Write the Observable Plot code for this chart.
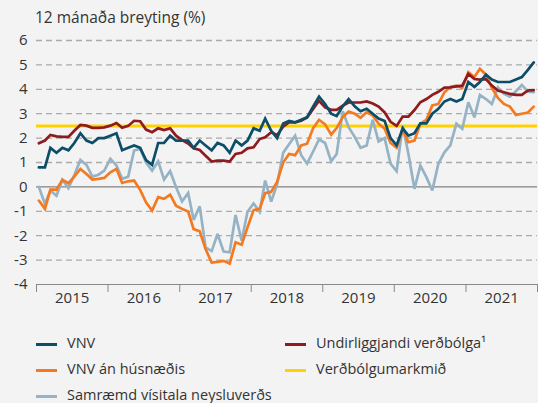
<!DOCTYPE html>
<html>
<head>
<meta charset="utf-8">
<script src="https://cdn.jsdelivr.net/npm/d3@7"></script>
<script src="https://cdn.jsdelivr.net/npm/@observablehq/plot@0.6"></script>
<style>
  html, body { margin: 0; padding: 0; background: #f3f3f3; }
  body { width: 538px; height: 403px; position: relative; overflow: hidden; font-family: "Open Sans", sans-serif; color: #333; }
  #title { position: absolute; left: 35px; top: 6px; font-size: 15.5px; color: #333; }
  #chart { position: absolute; left: 0; top: 0; }
  .lg { position: absolute; font-size: 14.5px; color: #333; white-space: nowrap; }
  .sw { position: absolute; width: 21px; height: 3px; }
</style>
</head>
<body>
<div id="chart"></div>
<div id="title">12 mánaða breyting (%)</div>
<div id="legend"></div>
<script>
// Monthly 12-month change, Jan 2015 – Dec 2021
const vnv = [
  0.8,0.8,1.6,1.4,1.6,1.5,1.8,2.2,1.9,1.8,2.0,2.0,
  2.1,2.2,1.5,1.6,1.7,1.6,1.1,0.9,1.8,1.8,2.1,1.9,
  1.9,1.9,1.6,1.9,1.7,1.5,1.8,1.7,1.4,1.9,1.7,1.9,
  2.4,2.3,2.8,2.3,2.0,2.6,2.7,2.65,2.75,2.85,3.3,3.7,
  3.4,3.0,2.9,3.3,3.6,3.3,3.1,3.2,3.0,2.8,2.7,2.0,
  1.7,2.4,2.1,2.2,2.6,2.6,3.0,3.2,3.5,3.6,3.5,3.6,
  4.3,4.1,4.3,4.6,4.4,4.3,4.3,4.3,4.4,4.5,4.8,5.1
];
const vnvAnHusnaedis = [
  -0.56,-0.9,-0.11,-0.11,0.29,0.15,0.42,0.74,0.53,0.3,0.33,0.37,
  0.6,0.74,0.16,0.23,0.26,-0.12,-0.63,-0.97,-0.42,-0.49,-0.32,-0.77,
  -0.9,-1.01,-1.73,-1.82,-2.55,-3.1,-3.07,-3.03,-3.14,-2.27,-2.37,-1.66,
  -0.95,-0.9,-0.26,-0.2,0.2,1.0,1.35,1.3,1.7,1.77,2.41,2.75,
  2.56,2.14,2.41,2.86,3.09,3.0,2.83,3.06,2.93,2.59,2.38,1.8,
  1.6,2.34,1.83,1.9,2.59,2.75,3.34,3.4,3.88,4.09,4.15,4.06,
  4.7,4.5,4.84,4.6,4.06,3.65,3.4,3.29,2.95,3.0,3.05,3.29
];
const samraemd = [
  0.0,-0.7,-0.15,-0.36,0.29,-0.05,0.49,1.1,0.9,0.42,0.5,0.67,
  1.15,0.88,0.33,0.42,1.49,1.56,1.0,0.67,1.05,0.3,0.65,0.0,
  -0.6,-0.25,-1.35,-0.8,-2.48,-2.63,-1.93,-2.65,-2.68,-1.15,-2.2,-1.02,
  -0.68,-1.02,0.26,-0.6,0.1,1.4,1.75,2.1,1.3,0.95,1.45,1.95,
  1.8,1.05,1.35,3.1,2.45,2.05,1.6,1.7,2.75,1.86,2.0,0.95,
  0.64,2.52,1.36,-0.08,0.88,0.4,-0.15,0.95,1.42,1.7,2.59,2.38,
  3.47,2.85,3.77,3.6,3.4,4.07,3.82,3.7,3.92,4.18,3.9,3.88
];
const undirliggjandi = [
  1.79,1.9,2.13,2.07,2.05,2.05,2.3,2.54,2.51,2.42,2.42,2.44,
  2.51,2.62,2.42,2.5,2.71,2.69,2.35,2.24,2.4,2.33,2.4,2.1,
  1.92,1.78,1.58,1.51,1.28,1.04,1.08,1.08,1.04,1.35,1.4,1.58,
  1.62,1.96,2.03,2.24,2.13,2.47,2.64,2.64,2.71,2.85,3.19,3.53,
  3.26,3.16,3.16,3.33,3.46,3.46,3.46,3.5,3.42,3.29,3.05,2.67,
  2.5,2.88,2.88,3.15,3.47,3.6,3.77,3.9,4.07,4.08,4.12,4.15,
  4.63,4.42,4.4,4.42,4.15,3.95,3.88,3.81,3.77,3.77,3.95,3.97
];
const verdbolgumarkmid = 2.5;
const yTicks = [-4,-3,-2,-1,0,1,2,3,4,5,6];
const years = [2015,2016,2017,2018,2019,2020,2021];
const seriesNames = ["VNV","VNV án húsnæðis","Samræmd vísitala neysluverðs","Undirliggjandi verðbólga¹","Verðbólgumarkmið"];
const seriesColors = ["#0c4e68","#f47a22","#95b3c4","#8e1c1f","#fed100"];

const months = d3.utcMonths(new Date(Date.UTC(2015,0,1)), new Date(Date.UTC(2022,0,1)))
  .map(d => d3.utcDay.offset(d, 12));
const toRows = (arr) => arr.map((v, i) => ({date: months[i], value: v}));

const yearStarts = years.concat([2022]).map(y => new Date(Date.UTC(y,0,1)));
const yearMids = years.map(y => new Date(Date.UTC(y,6,2)));

const lineOpts = (c) => ({x: "date", y: "value", stroke: c, strokeWidth: 2.7, strokeLinejoin: "miter", strokeMiterlimit: 3});

const chart = Plot.plot({
  width: 538, height: 310,
  marginLeft: 36, marginRight: 1, marginTop: 40, marginBottom: 26,
  style: {background: "transparent", fontFamily: "Open Sans, sans-serif", fontSize: "15px", color: "#333"},
  x: {type: "utc", domain: [new Date(Date.UTC(2015,0,1)), new Date(Date.UTC(2022,0,1))]},
  y: {domain: [-4, 6]},
  marks: [
    Plot.ruleY(yTicks.filter(d => d !== 0 && d !== -4), {stroke: "#aaa", strokeWidth: 1.3, strokeDasharray: "6,4"}),
    Plot.ruleY([0], {stroke: "#666", strokeWidth: 1}),
    Plot.ruleY([-4], {stroke: "#888", strokeWidth: 1}),
    Plot.axisY({ticks: yTicks, tickSize: 0, tickPadding: 9, tickFormat: d => String(d), label: null, fontSize: 15}),
    Plot.axisX({ticks: yearStarts, tickSize: 8, tickFormat: () => "", label: null, stroke: "#888"}),
    Plot.axisX({ticks: yearMids, tickSize: 0, tickPadding: 8, tickFormat: d => String(d.getUTCFullYear()), label: null, fontSize: 15}),
    Plot.ruleY([verdbolgumarkmid], {stroke: seriesColors[4], strokeWidth: 3}),
    Plot.line(toRows(samraemd), lineOpts(seriesColors[2])),
    Plot.line(toRows(vnvAnHusnaedis), lineOpts(seriesColors[1])),
    Plot.line(toRows(undirliggjandi), lineOpts(seriesColors[3])),
    Plot.line(toRows(vnv), lineOpts(seriesColors[0]))
  ]
});
document.getElementById("chart").appendChild(chart);

// Legend
const legendPos = [
  {x: 36, y: 344}, {x: 36, y: 370}, {x: 36, y: 396},
  {x: 285, y: 344}, {x: 285, y: 370}
];
const lg = document.getElementById("legend");
seriesNames.forEach((name, i) => {
  const p = legendPos[i];
  const sw = document.createElement("div");
  sw.className = "sw";
  sw.style.left = p.x + "px";
  sw.style.top = (p.y - 1.5) + "px";
  sw.style.background = seriesColors[i];
  lg.appendChild(sw);
  const t = document.createElement("div");
  t.className = "lg";
  t.textContent = name;
  t.style.left = (p.x + 31) + "px";
  t.style.top = (p.y - 11) + "px";
  lg.appendChild(t);
});
</script>
</body>
</html>
